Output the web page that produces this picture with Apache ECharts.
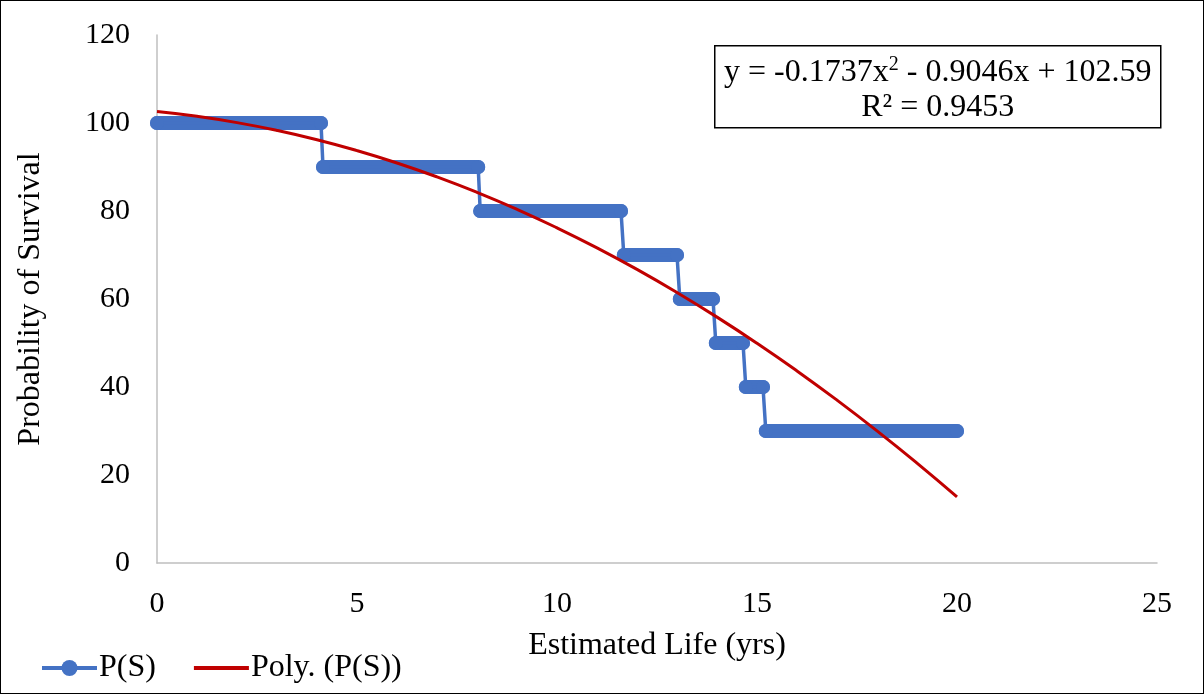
<!DOCTYPE html>
<html><head><meta charset="utf-8">
<script src="https://cdn.jsdelivr.net/npm/echarts@6/dist/echarts.min.js"></script>
<style>
html,body{margin:0;padding:0;background:#fff;}
#frame{position:absolute;left:0;top:0;width:1202px;height:692px;border:1px solid #000;}
#c{position:absolute;left:0;top:0;width:1204px;height:694px;}
</style></head>
<body><div id="frame"></div><div id="c"></div>
<script>
// Step data of P(S): [estimated life (yrs), probability of survival]
const stepX = [0, 4.1, 4.15, 8.03, 8.08, 11.6, 11.67, 13.0, 13.07, 13.9, 13.97, 14.65, 14.72, 15.15, 15.22, 20];
const stepY = [100, 100, 90, 90, 80, 80, 70, 70, 60, 60, 50, 50, 40, 40, 30, 30];
// Polynomial trendline values
const polyX = [0,1,2,3,4,5,6,7,8,9,10,11,12,13,14,15,16,17,18,19,20];
const polyY = [102.59,101.51,100.09,98.31,96.19,93.72,90.91,87.75,84.24,80.38,76.17,71.62,66.72,61.47,55.88,49.94,43.65,37.01,30.03,22.70,15.02];
const xTicks = [0,5,10,15,20,25];
const yTicks = [0,20,40,60,80,100,120];
const eqLine1 = 'y = -0.1737x';
const eqLine2 = ' - 0.9046x + 102.59';
const eqR2 = 'R² = 0.9453';

const BLUE = '#4472C4', RED = '#C00000';
const FONT = '"Liberation Serif","Times New Roman",serif';

const stepData = stepX.map((x,i)=>[x, stepY[i]]);
const runs = [];
for (let i=0;i<stepData.length-1;i++){
  if (stepData[i][1] === stepData[i+1][1]) runs.push([stepData[i], stepData[i+1]]);
}
const runSeries = runs.map(r=>({
  type:'line', name:'P(S)', data:r, symbol:'none', silent:true, z:2,
  lineStyle:{color:BLUE, width:14, cap:'round'}, itemStyle:{color:BLUE}, animation:false
}));

const chart = echarts.init(document.getElementById('c'));
chart.setOption({
  animation:false,
  grid:{left:157, right:47, top:35, bottom:131, containLabel:false},
  xAxis:{type:'value', min:xTicks[0], max:xTicks[xTicks.length-1], interval:5,
    name:'Estimated Life (yrs)', nameLocation:'middle', nameGap:67,
    nameTextStyle:{fontFamily:FONT, fontSize:32, color:'#000'},
    axisLine:{show:true, lineStyle:{color:'#BFBFBF', width:1.5}},
    axisTick:{show:false}, splitLine:{show:false},
    axisLabel:{fontFamily:FONT, fontSize:30, color:'#000', margin:26}},
  yAxis:{type:'value', min:yTicks[0], max:yTicks[yTicks.length-1], interval:20,
    name:'Probability of Survival', nameLocation:'middle', nameGap:110, nameRotate:90,
    nameTextStyle:{fontFamily:FONT, fontSize:32, color:'#000'},
    axisLine:{show:true, lineStyle:{color:'#BFBFBF', width:1.5}},
    axisTick:{show:false}, splitLine:{show:false},
    axisLabel:{fontFamily:FONT, fontSize:30, color:'#000', margin:27}},
  legend:{left:35, top:647, itemWidth:55, itemHeight:20, itemGap:36,
    textStyle:{fontFamily:FONT, fontSize:32, color:'#000', padding:[0,0,0,-3]},
    data:[{name:'P(S)', lineStyle:{width:4}},
          {name:'Poly. (P(S))', itemStyle:{opacity:0}, lineStyle:{width:4}}]},
  graphic:[{
    type:'group', left:714, top:45,
    children:[
      {type:'rect', shape:{x:0,y:0,width:446,height:82}, style:{fill:'#fff', stroke:'#000', lineWidth:1.5}},
      {type:'text', x:223, y:27, style:{
        text:'{a|'+eqLine1+'}{s|2}{a|'+eqLine2+'}',
        rich:{a:{fontFamily:FONT,fontSize:32,fill:'#000'}, s:{fontFamily:FONT,fontSize:20,fill:'#000',verticalAlign:'top',padding:[0,0,16,0]}},
        align:'center', verticalAlign:'middle'}},
      {type:'text', x:223, y:62, style:{text:eqR2, fontFamily:FONT, fontSize:32, fill:'#000', align:'center', verticalAlign:'middle'}}
    ]}],
  series:[
    {type:'line', name:'P(S)', data:stepData, symbol:'circle', symbolSize:14, z:3,
     lineStyle:{color:BLUE, width:3.5}, itemStyle:{color:BLUE}},
    ...runSeries,
    {type:'line', name:'Poly. (P(S))', data:polyX.map((x,i)=>[x, polyY[i]]), smooth:true, symbol:'none', z:5,
     lineStyle:{color:RED, width:3}, itemStyle:{color:RED}}
  ]
});
</script></body></html>
